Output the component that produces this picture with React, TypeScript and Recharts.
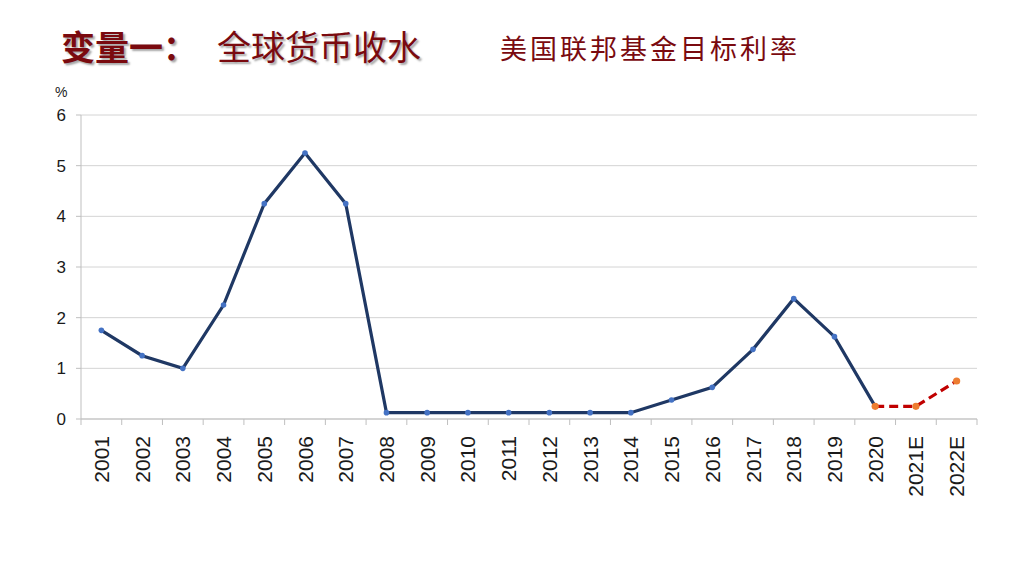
import { LineChart, Line, XAxis, YAxis, CartesianGrid } from 'recharts';

const years = [
  '2001', '2002', '2003', '2004', '2005', '2006', '2007', '2008', '2009', '2010', '2011',
  '2012', '2013', '2014', '2015', '2016', '2017', '2018', '2019', '2020', '2021E', '2022E',
];
const actualRate = [
  1.75, 1.25, 1.0, 2.25, 4.25, 5.25, 4.25, 0.125, 0.125, 0.125, 0.125,
  0.125, 0.125, 0.125, 0.375, 0.625, 1.375, 2.375, 1.625, 0.25, null, null,
];
const forecastRate = [
  null, null, null, null, null, null, null, null, null, null, null,
  null, null, null, null, null, null, null, null, 0.25, 0.25, 0.75,
];
const yTicks = [0, 1, 2, 3, 4, 5, 6];

const data = years.map((year, i) => ({
  year,
  actual: actualRate[i],
  forecast: forecastRate[i],
}));

const W = 1024;
const H = 576;
const PLOT_LEFT = 81;
const PLOT_RIGHT = 977;
const BAND = (PLOT_RIGHT - PLOT_LEFT) / years.length;
const FONT = '"Liberation Sans", Arial, sans-serif';
const CJK = '"Noto Sans CJK SC", sans-serif';
const TITLE_RED = '#7a0a0f';

function YearTick(props: any) {
  const { x, y, payload, index } = props;
  const last = index === years.length - 1;
  return (
    <g>
      <line x1={x - BAND / 2} y1={y - 8} x2={x - BAND / 2} y2={y - 2} stroke="#bfbfbf" />
      {last && <line x1={x + BAND / 2} y1={y - 8} x2={x + BAND / 2} y2={y - 2} stroke="#bfbfbf" />}
      <text
        x={x}
        y={y + 9}
        transform={`rotate(-90 ${x} ${y + 9})`}
        textAnchor="end"
        dominantBaseline="central"
        fontSize={21}
        fontFamily={FONT}
        fill="#1a1a1a"
      >
        {payload.value}
      </text>
    </g>
  );
}

function ActualDot(props: any) {
  const { cx, cy, value } = props;
  if (value == null || cx == null) return null;
  return <circle cx={cx} cy={cy} r={2.8} fill="#4472c4" />;
}

function ForecastDot(props: any) {
  const { cx, cy, value } = props;
  if (value == null || cx == null) return null;
  return <circle cx={cx} cy={cy} r={3.6} fill="#ed7d31" />;
}

export default function App() {
  return (
    <div style={{ position: 'absolute', left: 0, top: 0, width: W, height: H, background: '#fff' }}>
      <div
        style={{
          position: 'absolute',
          left: 61,
          top: 22,
          fontFamily: CJK,
          fontSize: 34,
          color: TITLE_RED,
          whiteSpace: 'nowrap',
          textShadow: '2px 2px 2px rgba(0,0,0,0.35)',
          lineHeight: '48px',
        }}
      >
        <span style={{ fontWeight: 700 }}>变量一：</span>
        <span style={{ marginLeft: 20 }}>全球货币收水</span>
      </div>
      <div
        style={{
          position: 'absolute',
          left: 500,
          top: 29,
          fontFamily: CJK,
          fontSize: 27,
          letterSpacing: 3,
          color: TITLE_RED,
          whiteSpace: 'nowrap',
          lineHeight: '38px',
        }}
      >
        美国联邦基金目标利率
      </div>
      <div
        style={{
          position: 'absolute',
          left: 55,
          top: 84,
          fontFamily: FONT,
          fontSize: 14,
          color: '#1a1a1a',
        }}
      >
        %
      </div>
      <LineChart
        width={W}
        height={H}
        data={data}
        margin={{ top: 115, right: W - PLOT_RIGHT, bottom: 97, left: PLOT_LEFT - 40 }}
      >
        <CartesianGrid vertical={false} stroke="#d4d4d4" />
        <XAxis
          dataKey="year"
          interval={0}
          height={60}
          padding={{ left: BAND / 2, right: BAND / 2 }}
          stroke="#bfbfbf"
          tickLine={false}
          tick={<YearTick />}
        />
        <YAxis
          domain={[0, 6]}
          ticks={yTicks}
          width={40}
          stroke="#bfbfbf"
          tickSize={5}
          tickMargin={10}
          tick={{ fontSize: 17, fontFamily: FONT, fill: '#1a1a1a' }}
        />
        <Line
          dataKey="actual"
          stroke="#1f3864"
          strokeWidth={3.2}
          dot={<ActualDot />}
          activeDot={false}
          isAnimationActive={false}
        />
        <Line
          dataKey="forecast"
          stroke="#c00000"
          strokeWidth={3.2}
          strokeDasharray="9 5"
          dot={<ForecastDot />}
          activeDot={false}
          isAnimationActive={false}
        />
      </LineChart>
    </div>
  );
}
